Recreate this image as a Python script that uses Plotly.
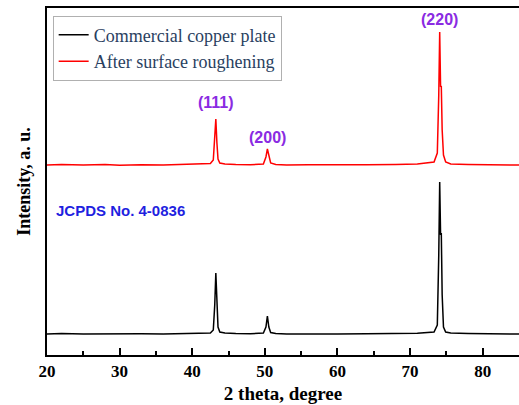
import plotly.graph_objects as go

# ---- data (2theta in degrees, intensity in arbitrary units) ----
black_x = [20, 22, 25, 28, 30, 33, 36, 39, 41, 42.5, 42.9, 43.1, 43.25, 43.4, 43.55, 43.8, 44.5,
           46, 48, 49.8, 50.15, 50.35, 50.55, 50.8, 51.5, 53, 56, 60, 64, 68, 71, 73.3, 73.75,
           73.95, 74.08, 74.2, 74.3, 74.42, 74.6, 74.9, 75.6, 78, 81, 85]
black_y = [21, 21.5, 21, 21.3, 20.8, 21.2, 21, 21.4, 21.6, 22, 25, 50, 82, 55, 28, 23, 22,
           21.5, 21.2, 22, 28, 39, 28, 22.5, 21.5, 21, 21.3, 21, 21.2, 21.5, 21.8, 23, 30,
           100, 173, 120, 122, 60, 28, 23, 22, 21.5, 21.2, 21]

red_x = black_x
red_y = [190, 190.5, 190, 190.4, 189.8, 190.3, 190, 190.5, 190.8, 191.5, 195, 215, 236, 212, 196, 192, 191,
         190.5, 190.2, 191, 198, 206, 198, 192, 190.6, 190, 190.3, 190, 190.2, 190.5, 191, 193, 202,
         260, 323, 268, 269, 225, 200, 193, 191, 190.5, 190.2, 190]

labels = ["(111)", "(200)", "(220)"]
label_x = [43.3, 50.3, 74.1]
label_y = [253, 218, 336]

ref_text = "JCPDS No. 4-0836"
series_names = ["Commercial copper plate", "After surface roughening"]
x_ticks = [20, 30, 40, 50, 60, 70, 80]

serif = "Liberation Serif, Times New Roman, serif"
sans = "Liberation Sans, Arial, sans-serif"

fig = go.Figure()
fig.add_trace(go.Scatter(x=black_x, y=black_y, mode="lines", name=series_names[0],
                         line=dict(color="black", width=1.5)))
fig.add_trace(go.Scatter(x=red_x, y=red_y, mode="lines", name=series_names[1],
                         line=dict(color="#ff0000", width=1.5)))

for t, xx, yy in zip(labels, label_x, label_y):
    fig.add_annotation(x=xx, y=yy, text="<b>%s</b>" % t, showarrow=False,
                       font=dict(family=sans, size=16, color="#8a2be2"))

fig.add_annotation(x=0.015, xref="paper", y=145, yref="y", text="<b>%s</b>" % ref_text,
                   showarrow=False, xanchor="left",
                   font=dict(family=sans, size=15, color="#1f1fe0"))

fig.update_layout(
    width=519, height=405,
    margin=dict(l=47, r=0, t=8, b=50),
    paper_bgcolor="white", plot_bgcolor="white",
    showlegend=True,
    legend=dict(x=0.012, y=0.978, xanchor="left", yanchor="top",
                bordercolor="#b0b0b0", borderwidth=1, bgcolor="white",
                font=dict(family=serif, size=18), tracegroupgap=0, itemwidth=30),
    xaxis=dict(range=[20, 85], tickvals=x_ticks, ticks="inside", ticklen=7, tickwidth=1.5,
               tickcolor="black", showline=True, linecolor="black", linewidth=2, mirror=True,
               showgrid=False, zeroline=False,
               minor=dict(tickvals=[25, 35, 45, 55, 65, 75, 85], ticks="inside", ticklen=4,
                          tickwidth=1.5, tickcolor="black"),
               tickfont=dict(family=serif, size=17, color="black", weight="bold"),
               title=dict(text="<b>2 theta, degree</b>", font=dict(family=serif, size=19, color="black"),
                          standoff=6)),
    yaxis=dict(range=[0, 347], showticklabels=False, ticks="", showline=True, linecolor="black",
               linewidth=2, showgrid=False, zeroline=False,
               title=dict(text="<b>Intensity, a. u.</b>", font=dict(family=serif, size=18, color="black"),
                          standoff=10)),
)

fig.write_html("out.html")
